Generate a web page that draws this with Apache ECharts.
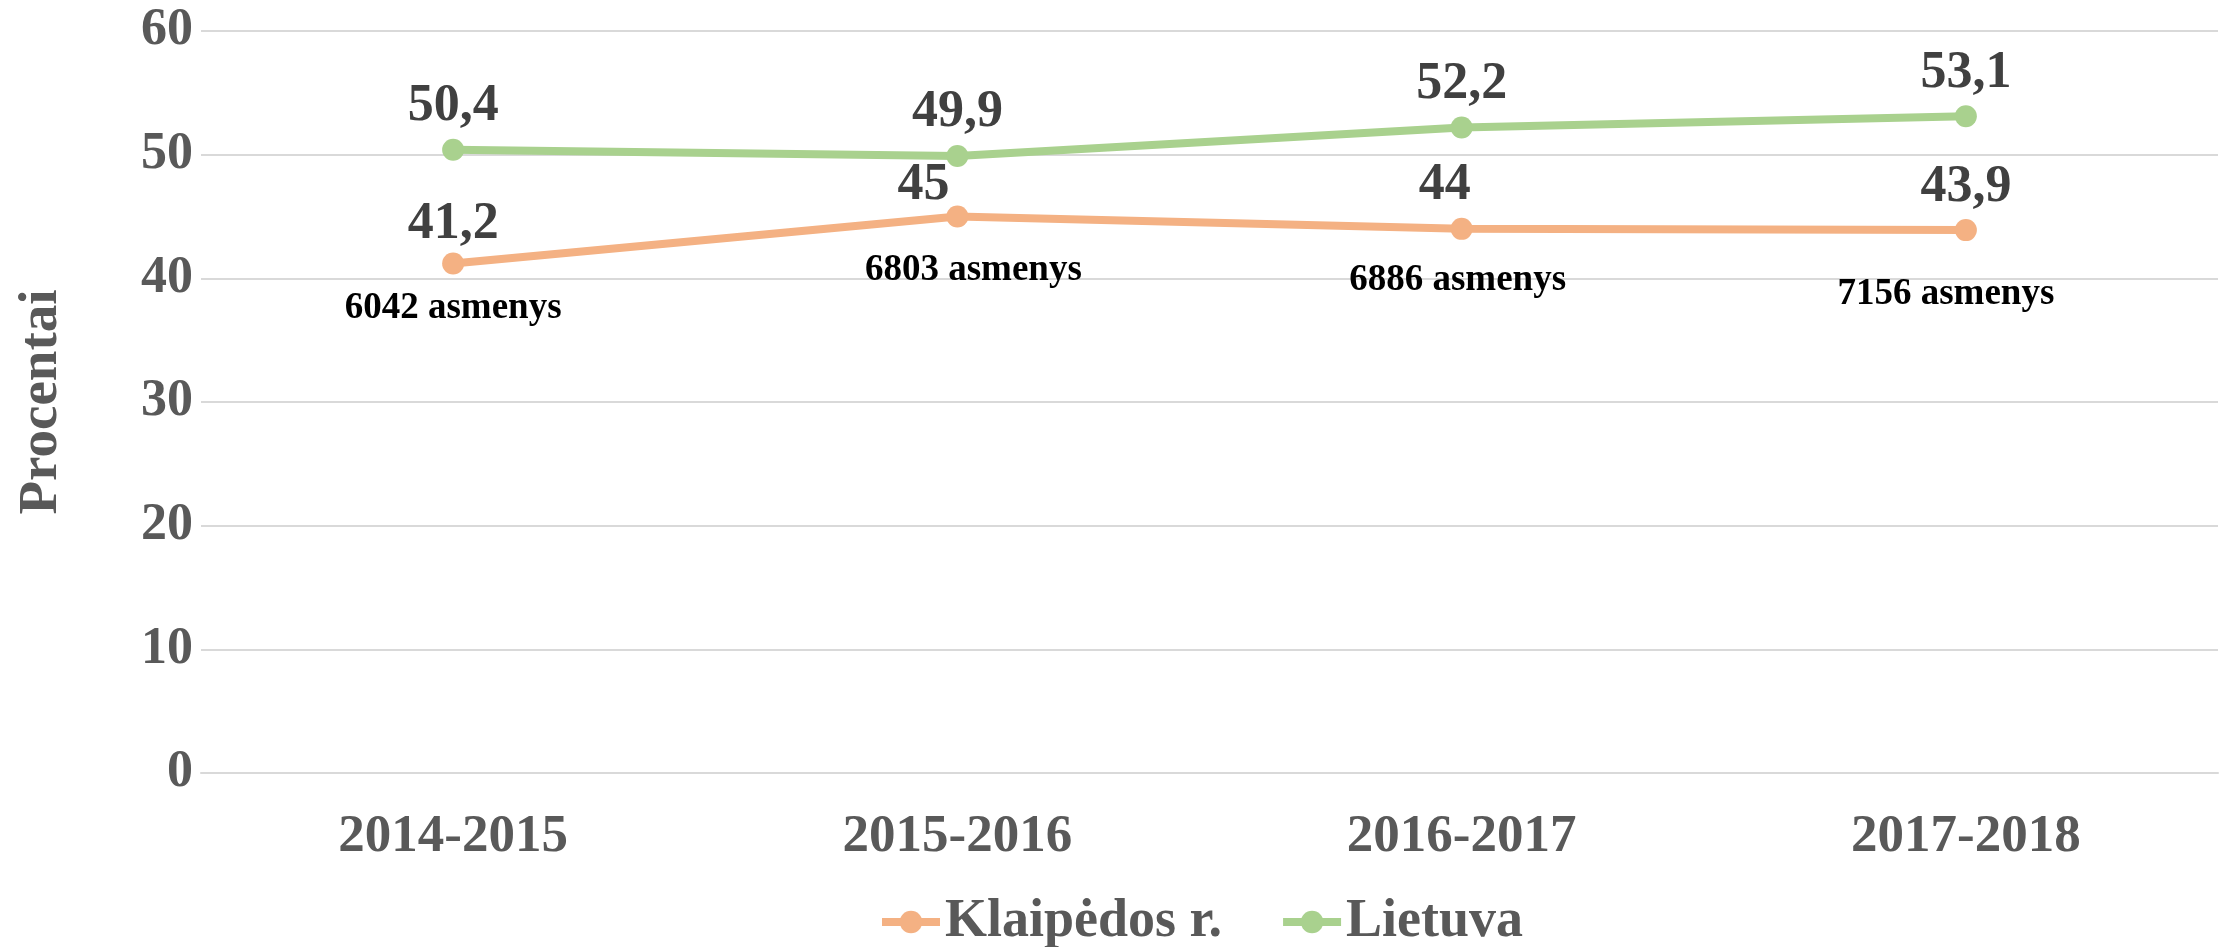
<!DOCTYPE html>
<html>
<head>
    <meta charset="utf-8">
    <title>Procentai</title>
    <script src="https://cdn.jsdelivr.net/npm/echarts@6/dist/echarts.min.js"></script>
    <style>
        html, body { margin: 0; padding: 0; background: #fff; }
    </style>
</head>
<body>
    <div id="main" style="width: 2224px;height:947px;"></div>
    <script type="text/javascript">
        // duomenys
        var years = ['2014-2015', '2015-2016', '2016-2017', '2017-2018'];
        var klaipedos = [41.2, 45, 44, 43.9];
        var lietuva = [50.4, 49.9, 52.2, 53.1];
        var asmenys = [6042, 6803, 6886, 7156];
        var yTicks = [0, 10, 20, 30, 40, 50, 60];

        var font = '"Liberation Serif", "Times New Roman", serif';

        // small label nudges, as in the picture
        var topNudge = [[0, 4], [-34, 12], [-17, 0], [0, 0]];
        var bottomNudge = [[0, 0], [16, 9], [-4, 7], [-20, 19]];

        function fmt(v) {
            return String(v).replace('.', ',');
        }

        var myChart = echarts.init(document.getElementById('main'));

        var valueLabel = {
            show: true,
            position: 'top',
            distance: 6,
            fontFamily: font,
            fontWeight: 'bold',
            fontSize: 52,
            color: '#404040',
            formatter: function (p) { return fmt(p.value); }
        };

        var option = {
            animation: false,
            grid: {
                left: 201,
                right: 6,
                top: 31,
                bottom: 174,
                outerBoundsMode: 'none'
            },
            legend: {
                data: ['Klaipėdos r.', 'Lietuva'],
                left: 873,
                top: 890,
                itemWidth: 58,
                itemHeight: 28,
                itemGap: 57,
                lineStyle: { width: 8 },
                textStyle: {
                    fontFamily: font,
                    fontWeight: 'bold',
                    fontSize: 54,
                    color: '#595959'
                }
            },
            xAxis: {
                type: 'category',
                data: years,
                axisLine: { lineStyle: { color: '#d9d9d9', width: 2 } },
                axisTick: { show: false },
                axisLabel: {
                    margin: 38,
                    fontFamily: font,
                    fontWeight: 'bold',
                    fontSize: 53,
                    color: '#595959'
                }
            },
            yAxis: {
                type: 'value',
                min: yTicks[0],
                max: yTicks[yTicks.length - 1],
                interval: yTicks[1] - yTicks[0],
                name: 'Procentai',
                nameLocation: 'middle',
                nameRotate: 90,
                nameGap: 132,
                nameTextStyle: {
                    fontFamily: font,
                    fontWeight: 'bold',
                    fontSize: 55,
                    color: '#595959'
                },
                axisLine: { show: false },
                axisTick: { show: false },
                splitLine: { lineStyle: { color: '#d9d9d9', width: 2 } },
                axisLabel: {
                    margin: 8,
                    fontFamily: font,
                    fontWeight: 'bold',
                    fontSize: 52,
                    color: '#595959'
                }
            },
            series: [
                {
                    name: 'Klaipėdos r.',
                    type: 'line',
                    symbol: 'circle',
                    symbolSize: 22,
                    color: '#F4B183',
                    lineStyle: { width: 8 },
                    data: klaipedos.map(function (v, i) {
                        return { value: v, label: { offset: topNudge[i] } };
                    }),
                    label: valueLabel,
                    z: 3
                },
                {
                    name: 'Lietuva',
                    type: 'line',
                    symbol: 'circle',
                    symbolSize: 22,
                    color: '#A9D18E',
                    lineStyle: { width: 8 },
                    data: lietuva,
                    label: valueLabel,
                    z: 3
                },
                {
                    // hidden copy of Klaipėdos r. carrying the "asmenys" labels
                    name: 'asmenys',
                    type: 'line',
                    silent: true,
                    symbol: 'circle',
                    symbolSize: 1,
                    itemStyle: { color: 'rgba(0,0,0,0)' },
                    lineStyle: { width: 0, color: 'rgba(0,0,0,0)' },
                    data: klaipedos.map(function (v, i) {
                        return { value: v, label: { offset: bottomNudge[i] } };
                    }),
                    label: {
                        show: true,
                        position: 'bottom',
                        distance: 26,
                        fontFamily: font,
                        fontWeight: 'bold',
                        fontSize: 37,
                        color: '#000',
                        formatter: function (p) { return asmenys[p.dataIndex] + ' asmenys'; }
                    },
                    z: 1
                }
            ]
        };

        myChart.setOption(option);
    </script>
</body>
</html>
